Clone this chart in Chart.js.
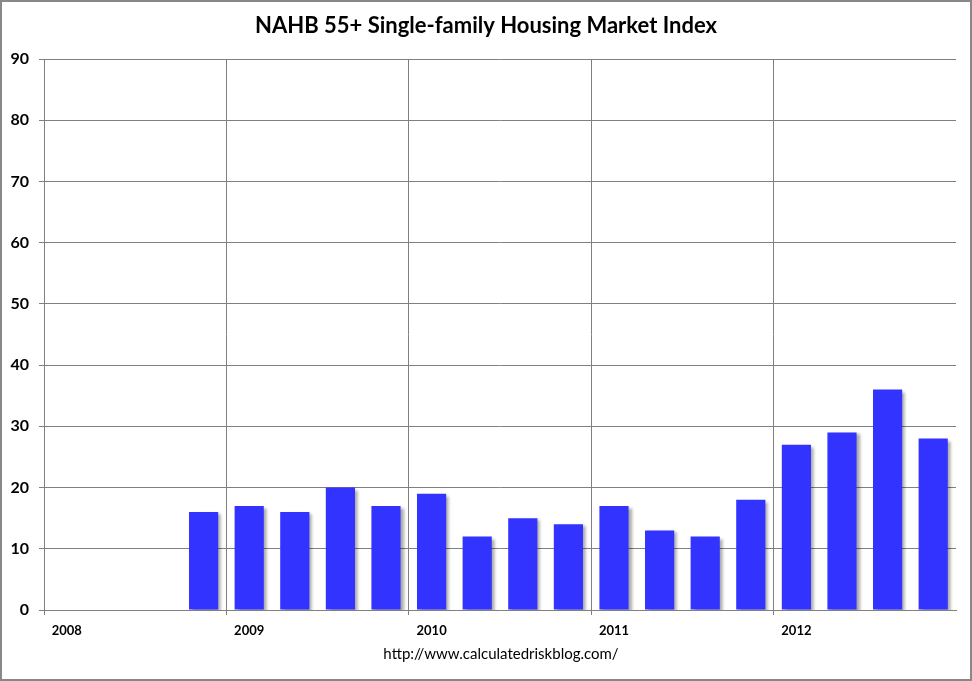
<!DOCTYPE html>
<html>
<head>
<meta charset="utf-8">
<script src="https://cdn.jsdelivr.net/npm/chart.js@4"></script>
<style>
  html, body { margin: 0; padding: 0; background: #fff; }
  #wrap { width: 972px; height: 681px; position: relative; }
</style>
</head>
<body>
<div id="wrap"><canvas id="c" width="972" height="681"></canvas></div>
<script>
const titleText = 'NAHB 55+ Single-family Housing Market Index';
const sourceText = 'http://www.calculatedriskblog.com/';
const years = ['2008', '2009', '2010', '2011', '2012'];
const quarters = ['Q1', 'Q2', 'Q3', 'Q4'];
const categories = [];
years.forEach(y => quarters.forEach(q => categories.push(y + ' ' + q)));
const indexValues = [null, null, null, 16, 17, 16, 20, 17, 19, 12, 15, 14, 17, 13, 12, 18, 27, 29, 36, 28];
const yMin = 0, yMax = 90, yStep = 10;

const FONT = 'Lato, "Open Sans", "DejaVu Sans", sans-serif';

const shadowPlugin = {
  id: 'barShadow',
  beforeDatasetDraw(chart) {
    const ctx = chart.ctx;
    ctx.save();
    ctx.shadowColor = 'rgba(0,0,0,0.35)';
    ctx.shadowBlur = 3;
    ctx.shadowOffsetX = 3;
    ctx.shadowOffsetY = 2;
  },
  afterDatasetDraw(chart) {
    chart.ctx.restore();
  }
};

const textPlugin = {
  id: 'texts',
  afterDraw(chart) {
    const ctx = chart.ctx;
    ctx.save();
    ctx.fillStyle = '#000';
    ctx.textAlign = 'center';
    ctx.textBaseline = 'middle';
    ctx.font = 'bold 22px ' + FONT;
    ctx.fillText(titleText, 486, 26);
    ctx.font = '15px ' + FONT;
    ctx.fillText(sourceText, 501, 654);
    ctx.strokeStyle = '#888';
    ctx.lineWidth = 2;
    ctx.strokeRect(1, 1, 970, 679);
    ctx.restore();
  }
};

new Chart(document.getElementById('c'), {
  type: 'bar',
  data: {
    labels: categories,
    datasets: [{
      data: indexValues,
      backgroundColor: '#3333FF',
      borderWidth: 0,
      categoryPercentage: 1.0,
      barPercentage: 0.64
    }]
  },
  options: {
    responsive: false,
    animation: false,
    devicePixelRatio: 1,
    layout: { padding: { top: 59, right: 16, bottom: 31, left: 0 } },
    plugins: {
      legend: { display: false },
      tooltip: { enabled: false },
      title: { display: false }
    },
    scales: {
      x: {
        type: 'category',
        offset: true,
        afterFit(s) { s.height = 40; },
        grid: {
          offset: true,
          color: ctx => (ctx.index % 4 === 0 ? '#808080' : 'rgba(0,0,0,0)'),
          lineWidth: 1,
          tickLength: 5,
          drawTicks: true
        },
        border: { display: true, color: '#808080' },
        ticks: {
          autoSkip: false,
          maxRotation: 0,
          minRotation: 0,
          padding: 8,
          color: '#000',
          font: { family: FONT, size: 13, weight: 'bold' },
          callback(v, i) { return i % 4 === 0 ? categories[i].slice(0, 4) : ''; }
        }
      },
      y: {
        min: yMin,
        max: yMax,
        afterFit(s) { s.width = 44; },
        grid: { color: '#808080', lineWidth: 1, tickLength: 5 },
        border: { display: true, color: '#808080' },
        ticks: {
          stepSize: yStep,
          padding: 10,
          color: '#000',
          font: { family: FONT, size: 16, weight: 'bold' }
        }
      }
    }
  },
  plugins: [shadowPlugin, textPlugin]
});
</script>
</body>
</html>
